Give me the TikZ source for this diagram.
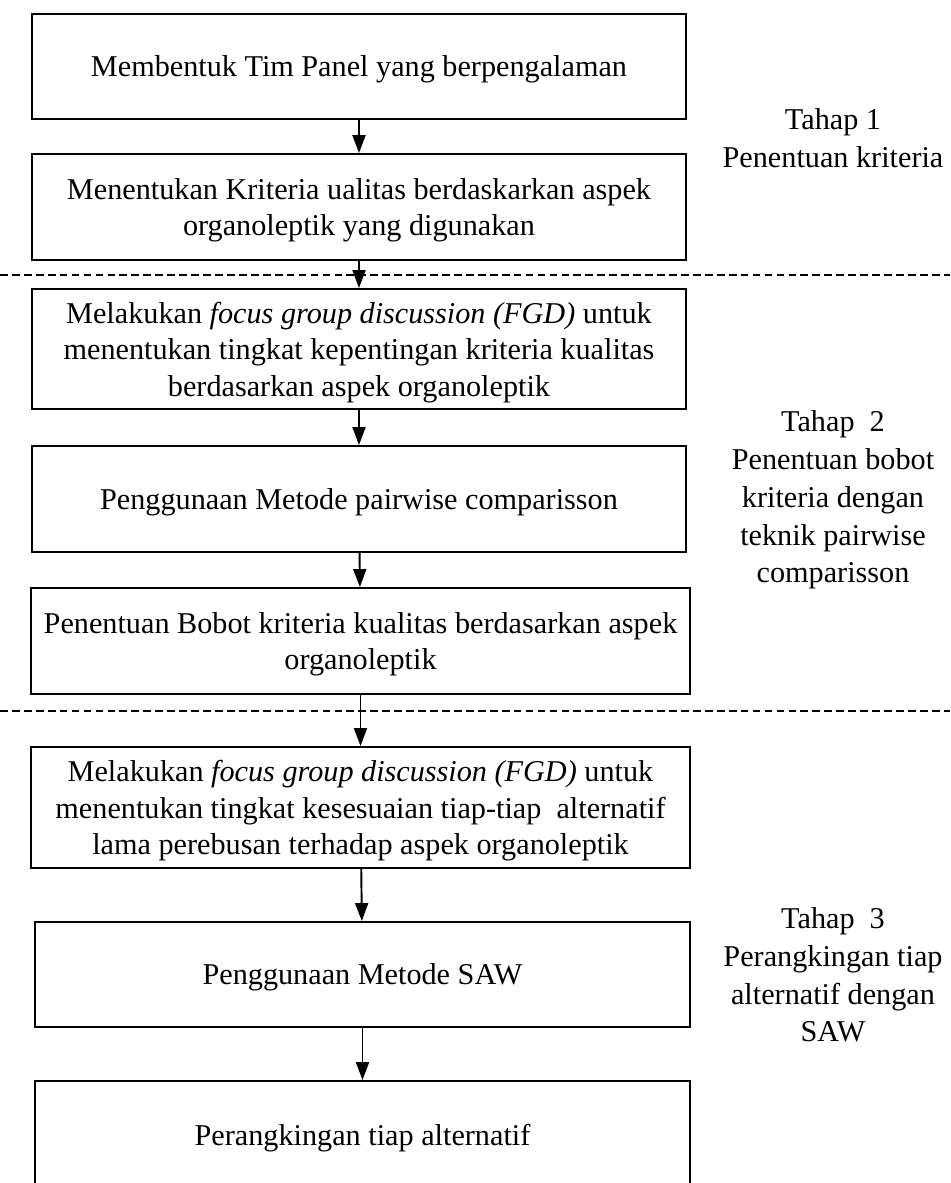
\documentclass[tikz,border=0pt]{standalone}
\usepackage{fontspec}
\setmainfont{Liberation Serif}
\usepackage{tikz}
\usetikzlibrary{positioning}
\usetikzlibrary{arrows.meta}
\tikzstyle{mybox} = [rectangle, draw, line width=1.1pt, align=center, minimum width=13.1cm, minimum height=2.12cm, inner sep=0pt, text depth=0pt, font=\fontsize{17.2}{20.8}\selectfont]
\tikzstyle{mylabel} = [align=center, inner sep=0pt, font=\fontsize{17.2}{21.5}\selectfont]
\tikzstyle{myarrow} = [line width=1.1pt, -{Triangle[length=0.36cm, width=0.26cm]}]
\tikzstyle{mydash} = [line width=1.1pt, dash pattern=on 4.4pt off 2.4pt]

\begin{document}
\begin{tikzpicture}[x=0.02cm, y=-0.02cm]
        \useasboundingbox (0,0) rectangle (950,1183);

        % Boxes
        \node[mybox, minimum height=2.1cm] (box_1) at (359,66.5) {Membentuk Tim Panel yang berpengalaman};
        \node[mybox] (box_2) at (359,207) {Menentukan Kriteria ualitas berdaskarkan aspek\\organoleptik yang digunakan};
        \node[mybox, minimum height=2.4cm] (box_3) at (359,349) {Melakukan \textit{focus group discussion (FGD)} untuk\\menentukan tingkat kepentingan kriteria kualitas\\berdasarkan aspek organoleptik};
        \node[mybox] (box_4) at (359,499) {Penggunaan Metode pairwise comparisson};
        \node[mybox, minimum width=13.18cm] (box_5) at (360.5,641) {Penentuan Bobot kriteria kualitas berdasarkan aspek\\organoleptik};
        \node[mybox, minimum width=13.18cm, minimum height=2.42cm] (box_6) at (360.5,807.5) {Melakukan \textit{focus group discussion (FGD)} untuk\\menentukan tingkat kesesuaian tiap-tiap\ \ alternatif\\lama perebusan terhadap aspek organoleptik};
        \node[mybox, minimum height=2.1cm] (box_7) at (362.5,974.5) {Penggunaan Metode SAW};
        \node[mybox, minimum height=2.14cm] (box_8) at (362.5,1134.5) {Perangkingan tiap alternatif};

        % Stages
        \node[mylabel] (tahap_1) at (833,138) {Tahap 1\\Penentuan kriteria};
        \node[mylabel] (tahap_2) at (833,500) {Tahap\ \ 2\\Penentuan bobot\\kriteria dengan\\teknik pairwise\\comparisson};
        \node[mylabel] (tahap_3) at (833,975) {Tahap\ \ 3\\Perangkingan tiap\\alternatif dengan\\SAW};

        % Borders between stages
        \coordinate (cut_1a) at (0,275);
        \coordinate (cut_1b) at (950,275);
        \coordinate (cut_2a) at (0,711);
        \coordinate (cut_2b) at (950,711);
        \draw[mydash] (cut_1a) -- (cut_1b);
        \draw[mydash] (cut_2a) -- (cut_2b);

        % Arrows
        \draw[myarrow] (box_1) -- (box_2);
        \draw[myarrow] (box_2) -- (box_3);
        \draw[myarrow] (box_3) -- (box_4);
        \draw[myarrow] (box_4) -- (box_5);
        \draw[myarrow] (box_5) -- (box_6);
        \draw[myarrow] (box_6) -- (box_7);
        \draw[myarrow] (box_7) -- (box_8);
\end{tikzpicture}
\end{document}
